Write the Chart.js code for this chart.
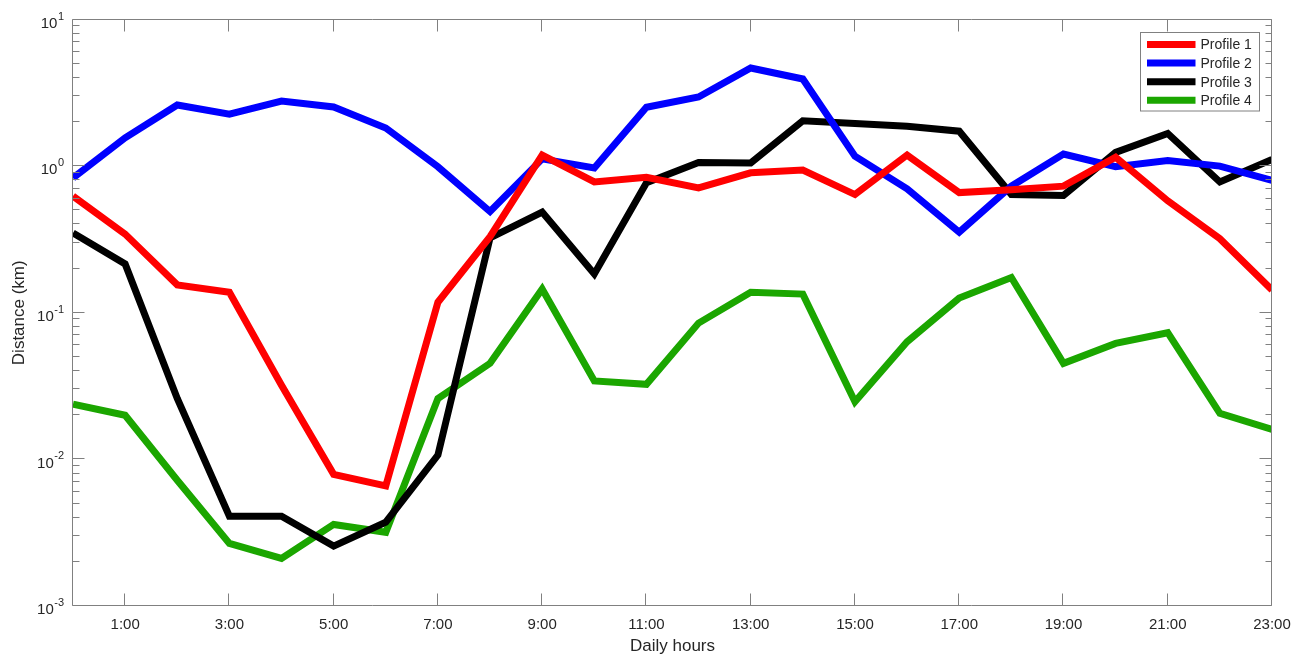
<!DOCTYPE html>
<html>
<head>
<meta charset="utf-8">
<title>Daily distance profiles</title>
<script src="https://cdn.jsdelivr.net/npm/chart.js@4.4.1/dist/chart.umd.min.js"></script>
<style>
    html, body { margin: 0; padding: 0; background: #fff; }
    #wrap { width: 1293px; height: 655px; }
</style>
</head>
<body>
<div id="wrap"><canvas id="distChart" width="1293" height="655"></canvas></div>
<script>
// Data
const hours = [0, 1, 2, 3, 4, 5, 6, 7, 8, 9, 10, 11, 12, 13, 14, 15, 16, 17, 18, 19, 20, 21, 22, 23];
const hourTicks = [1, 3, 5, 7, 9, 11, 13, 15, 17, 19, 21, 23];
const decadeExps = [-3, -2, -1, 0, 1];
const profileLabels = ['Profile 1', 'Profile 2', 'Profile 3', 'Profile 4'];

const profile1 = [0.625, 0.344, 0.155, 0.138, 0.032, 0.0079, 0.0066, 0.118, 0.33, 1.19, 0.78, 0.84,
                  0.71, 0.90, 0.94, 0.64, 1.19, 0.66, 0.69, 0.73, 1.15, 0.58, 0.32, 0.143];
const profile2 = [0.83, 1.56, 2.61, 2.26, 2.78, 2.53, 1.82, 0.99, 0.49, 1.12, 0.97, 2.52,
                  2.96, 4.67, 3.93, 1.17, 0.70, 0.355, 0.73, 1.21, 0.99, 1.09, 1.0, 0.80];
const profile3 = [0.35, 0.215, 0.026, 0.0041, 0.0041, 0.00256, 0.00373, 0.0107, 0.324, 0.486, 0.184, 0.77,
                  1.06, 1.05, 2.04, 1.95, 1.87, 1.73, 0.64, 0.63, 1.24, 1.67, 0.78, 1.11];
const profile4 = [0.0238, 0.020, 0.0072, 0.00267, 0.00211, 0.0036, 0.00318, 0.026, 0.0452, 0.145, 0.0343, 0.0325,
                  0.085, 0.138, 0.134, 0.0247, 0.0634, 0.126, 0.174, 0.0452, 0.0618, 0.0731, 0.0206, 0.016];

// Styles
const lineColors = ['#ff0000', '#0000ff', '#000000', '#1ba600'];
const FONT = '"Liberation Sans", Arial, Helvetica, sans-serif';
const TEXT = '#262626';
const AXIS = '#808080';

// Box, inward ticks, decade labels
const axesFrame = {
    id: 'axesFrame',
    afterDatasetsDraw(chart) {
        const { ctx, chartArea: a, scales: { x, y } } = chart;
        const L = Math.round(a.left) - 0.5;
        const R = Math.round(a.right) - 0.5;
        const T = Math.round(a.top) - 0.5;
        const B = Math.round(a.bottom) - 0.5;
        ctx.save();
        ctx.strokeStyle = AXIS;
        ctx.lineWidth = 1;
        ctx.beginPath();
        ctx.rect(L, T, R - L, B - T);

        hourTicks.forEach(h => {
            const px = Math.round(x.getPixelForValue(h)) - 0.5;
            ctx.moveTo(px, B); ctx.lineTo(px, B - 12);
            ctx.moveTo(px, T); ctx.lineTo(px, T + 12);
        });

        decadeExps.forEach(e => {
            const py = Math.round(y.getPixelForValue(Math.pow(10, e))) - 0.5;
            ctx.moveTo(L, py); ctx.lineTo(L + 12, py);
            ctx.moveTo(R, py); ctx.lineTo(R - 12, py);
            if (e < 1) {
                for (let m = 2; m <= 9; m++) {
                    const my = Math.round(y.getPixelForValue(m * Math.pow(10, e))) - 0.5;
                    ctx.moveTo(L, my); ctx.lineTo(L + 7, my);
                    ctx.moveTo(R, my); ctx.lineTo(R - 6, my);
                }
            }
        });
        ctx.stroke();

        // 10^n labels
        ctx.fillStyle = TEXT;
        ctx.textBaseline = 'middle';
        decadeExps.forEach(e => {
            const py = y.getPixelForValue(Math.pow(10, e));
            const exp = String(e);
            ctx.font = '11px ' + FONT;
            const wExp = ctx.measureText(exp).width;
            const right = a.left - 9;
            ctx.textAlign = 'left';
            ctx.fillText(exp, right - wExp, py - 3);
            ctx.font = '15px ' + FONT;
            ctx.textAlign = 'right';
            ctx.fillText('10', right - wExp - 0.5, py + 4);
        });
        ctx.restore();
    },
    afterDraw(chart) {
        // legend box inside the top-right corner
        const { ctx, chartArea: a } = chart;
        const boxW = 119, boxH = 78.5;
        const bx = Math.round(a.right - 13 - boxW) + 0.5;
        const by = Math.round(a.top + 12.5) + 0.5;
        ctx.save();
        ctx.fillStyle = '#fff';
        ctx.fillRect(bx, by, boxW, boxH);
        ctx.strokeStyle = AXIS;
        ctx.lineWidth = 1;
        ctx.strokeRect(bx, by, boxW, boxH);
        ctx.font = '14px ' + FONT;
        ctx.textBaseline = 'middle';
        ctx.textAlign = 'left';
        chart.data.datasets.forEach((ds, i) => {
            const ry = by + 12 + i * 18.6;
            ctx.strokeStyle = ds.borderColor;
            ctx.lineWidth = 7;
            ctx.beginPath();
            ctx.moveTo(bx + 6.5, ry);
            ctx.lineTo(bx + 55, ry);
            ctx.stroke();
            ctx.fillStyle = TEXT;
            ctx.fillText(ds.label, bx + 60, ry + 1);
        });
        ctx.restore();
    }
};

const profiles = [profile1, profile2, profile3, profile4];

const distChart = new Chart(document.getElementById('distChart'), {
    type: 'line',
    data: {
        datasets: profiles.map((values, i) => ({
            label: profileLabels[i],
            data: hours.map((h, j) => ({ x: h, y: values[j] })),
            borderColor: lineColors[i],
            borderWidth: 7,
            borderJoinStyle: 'miter',
            borderCapStyle: 'butt',
            pointRadius: 0,
            tension: 0,
            fill: false,
            clip: 0
        }))
    },
    options: {
        responsive: false,
        animation: false,
        devicePixelRatio: 1,
        layout: { padding: { left: 0, top: 19.5, right: 21, bottom: 0 } },
        plugins: {
            legend: { display: false },
            tooltip: { enabled: false }
        },
        scales: {
            x: {
                type: 'linear',
                min: 0,
                max: 23,
                afterBuildTicks: s => { s.ticks = hourTicks.map(v => ({ value: v })); },
                afterFit: s => { s.height = 49; s.paddingLeft = 0; s.paddingRight = 0; },
                grid: { display: false, drawTicks: false },
                border: { display: false },
                ticks: {
                    autoSkip: false,
                    maxRotation: 0,
                    padding: 10,
                    color: TEXT,
                    font: { family: FONT, size: 15 },
                    callback: v => v + ':00'
                },
                title: {
                    display: true,
                    text: 'Daily hours',
                    color: TEXT,
                    font: { family: FONT, size: 17 },
                    padding: { top: 0, bottom: -2 }
                }
            },
            y: {
                type: 'logarithmic',
                min: 0.001,
                max: 10,
                afterFit: s => { s.width = 73; },
                grid: { display: false, drawTicks: false },
                border: { display: false },
                ticks: { display: false },
                title: {
                    display: true,
                    text: 'Distance (km)',
                    color: TEXT,
                    font: { family: FONT, size: 17 },
                    padding: { top: 9, bottom: 0 }
                }
            }
        }
    },
    plugins: [axesFrame]
});
</script>
</body>
</html>
